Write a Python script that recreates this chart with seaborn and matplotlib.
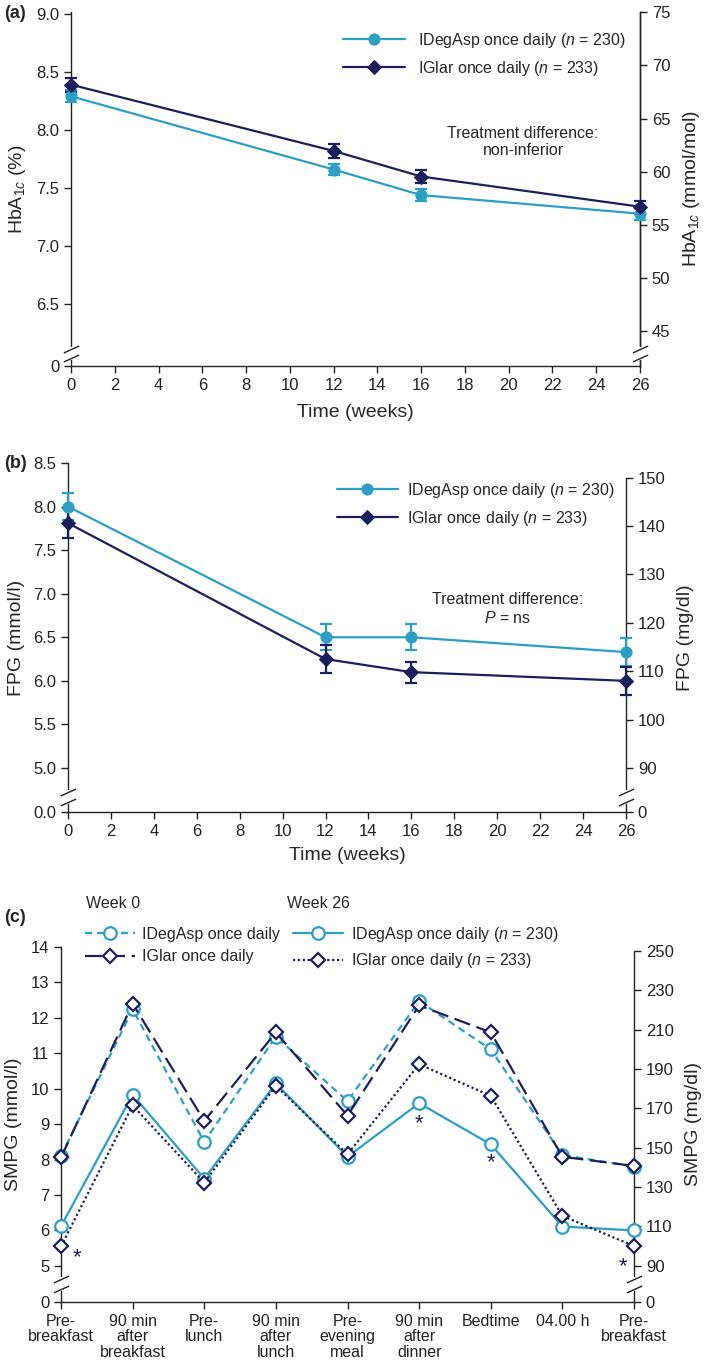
import numpy as np
import pandas as pd
import matplotlib
matplotlib.use("Agg")
import matplotlib.pyplot as plt
import seaborn as sns

# ---- data ----
weeks = [0, 12, 16, 26]

# (a) HbA1c, %
hba1c_degasp = [8.29, 7.66, 7.44, 7.28]
hba1c_glar = [8.39, 7.82, 7.60, 7.34]
hba1c_se_degasp = [0.05, 0.05, 0.05, 0.05]
hba1c_se_glar = [0.06, 0.06, 0.06, 0.05]

# (b) FPG, mmol/l
fpg_degasp = [8.00, 6.50, 6.50, 6.33]
fpg_glar = [7.81, 6.25, 6.10, 6.00]
fpg_se_degasp = [0.15, 0.15, 0.15, 0.16]
fpg_se_glar = [0.17, 0.16, 0.12, 0.16]

# (c) 9-point SMPG profile, mmol/l
timepoints = ["Pre-\nbreakfast", "90 min\nafter\nbreakfast", "Pre-\nlunch",
              "90 min\nafter\nlunch", "Pre-\nevening\nmeal", "90 min\nafter\ndinner",
              "Bedtime", "04.00 h", "Pre-\nbreakfast"]
smpg_degasp_w0 = [8.10, 12.24, 8.50, 11.47, 9.65, 12.47, 11.11, 8.13, 7.80]
smpg_glar_w0 = [8.06, 12.40, 9.09, 11.59, 9.24, 12.35, 11.59, 8.08, 7.82]
smpg_degasp_w26 = [6.12, 9.83, 7.46, 10.15, 8.08, 9.59, 8.43, 6.11, 6.00]
smpg_glar_w26 = [5.55, 9.53, 7.35, 10.08, 8.15, 10.69, 9.80, 6.41, 5.56]
signif_idx = [0, 5, 6, 8]          # time points marked with *
signif_y = [5.22, 9.00, 7.92, 4.98]

LIGHT = "#2b9fc4"
NAVY = "#1d1f5c"
AXC = "#222222"

sns.set_theme(style="ticks")
plt.rcParams["font.family"] = ["Liberation Sans", "DejaVu Sans"]
plt.rcParams["mathtext.fontset"] = "custom"
plt.rcParams["mathtext.rm"] = "Liberation Sans"
plt.rcParams["mathtext.it"] = "Liberation Sans:italic"
plt.rcParams["axes.edgecolor"] = AXC
plt.rcParams["axes.linewidth"] = 1.0
plt.rcParams["xtick.color"] = AXC
plt.rcParams["ytick.color"] = AXC
plt.rcParams["xtick.major.size"] = 5
plt.rcParams["ytick.major.size"] = 5
plt.rcParams["xtick.labelsize"] = 12
plt.rcParams["ytick.labelsize"] = 12
plt.rcParams["axes.labelsize"] = 14

W, H = 709, 1368
fig = plt.figure(figsize=(W / 100, H / 100), dpi=100)


def px_axes(left, top, right, bottom):
    return fig.add_axes([left / W, 1 - bottom / H, (right - left) / W, (bottom - top) / H])


def axis_break(ax, yval, xs=(0, 1)):
    # small "//" marks across the vertical spines
    trans = ax.get_yaxis_transform()
    span = ax.get_ylim()[1] - ax.get_ylim()[0]
    for x in xs:
        ax.plot([x, x], [yval - 0.013 * span, yval + 0.013 * span],
                transform=trans, color="white", lw=3, clip_on=False, zorder=5)
        for dy in (-0.013 * span, 0.013 * span):
            ax.plot([x], [yval + dy], transform=trans, marker=[(-1, -0.45), (1, 0.45)],
                    markersize=11, mew=1.0, color=AXC, ls="none", clip_on=False, zorder=6)


def make_twin(ax):
    ax2 = ax.twinx()
    for s in ("top", "left", "bottom"):
        ax2.spines[s].set_visible(False)
    ax2.tick_params(direction="out", width=1.0)
    ax.set_zorder(ax2.get_zorder() + 1)
    ax.patch.set_visible(False)
    return ax2


def unclip(ax):
    for art in list(ax.lines) + list(ax.collections):
        art.set_clip_on(False)


# ---------- (a) HbA1c ----------
ax = px_axes(71, 12, 640, 366)
df_a = pd.DataFrame({"week": weeks * 2,
                     "val": hba1c_degasp + hba1c_glar,
                     "arm": ["IDegAsp"] * 4 + ["IGlar"] * 4})
for arm, col, mk, ms, lab, se in [
        ("IDegAsp", LIGHT, "o", 8, "IDegAsp once daily ($n$ = 230)", hba1c_se_degasp),
        ("IGlar", NAVY, "D", 7, "IGlar once daily ($n$ = 233)", hba1c_se_glar)]:
    sub = df_a[df_a.arm == arm]
    sns.lineplot(data=sub, x="week", y="val", ax=ax, color=col, marker=mk, markersize=ms,
                 markeredgecolor=col, lw=1.6, label=lab, zorder=4)
    ax.errorbar(sub["week"], sub["val"], yerr=se, fmt="none", ecolor=col, elinewidth=1.6,
                capsize=4.5, capthick=1.6, zorder=3)
unclip(ax)
ylo_a, yhi_a = 5.97, 9.015
ax.set_xlim(0, 26)
ax.set_ylim(ylo_a, yhi_a)
ax.set_xticks(range(0, 27, 2))
ax.set_yticks([ylo_a, 6.5, 7.0, 7.5, 8.0, 8.5, 9.0])
ax.set_yticklabels(["0", "6.5", "7.0", "7.5", "8.0", "8.5", "9.0"])
ax.set_xlabel("Time (weeks)", labelpad=8)
ax.set_ylabel("HbA$_{1c}$ (%)", labelpad=6)
sns.despine(ax=ax, top=True, right=False)
ax.tick_params(direction="out", width=1.0)
ax.legend(loc="upper left", bbox_to_anchor=(343 / W, 1 - 31 / H), bbox_transform=fig.transFigure,
          frameon=False, fontsize=11.5, handlelength=3.9, handletextpad=0.8, borderpad=0,
          borderaxespad=0, labelspacing=0.55)
ax2 = make_twin(ax)
to_mmol = lambda v: 10.929 * (v - 2.15)
ax2.set_ylim(to_mmol(ylo_a), to_mmol(yhi_a))
ax2.set_yticks([45, 50, 55, 60, 65, 70, 75])
ax2.set_ylabel("HbA$_{1c}$ (mmol/mol)", labelpad=8)
fig.text(523 / W, 1 - 142 / H, "Treatment difference:\nnon-inferior", ha="center", va="center",
         fontsize=11.5)
fig.text(4 / W, 1 - 14 / H, "(a)", fontweight="bold", fontsize=13, va="center")
axis_break(ax, 6.08)

# ---------- (b) FPG ----------
ax = px_axes(68, 463, 626, 812)
df_b = pd.DataFrame({"week": weeks * 2,
                     "val": fpg_degasp + fpg_glar,
                     "arm": ["IDegAsp"] * 4 + ["IGlar"] * 4})
for arm, col, mk, ms, lab, se in [
        ("IDegAsp", LIGHT, "o", 8, "IDegAsp once daily ($n$ = 230)", fpg_se_degasp),
        ("IGlar", NAVY, "D", 7, "IGlar once daily ($n$ = 233)", fpg_se_glar)]:
    sub = df_b[df_b.arm == arm]
    sns.lineplot(data=sub, x="week", y="val", ax=ax, color=col, marker=mk, markersize=ms,
                 markeredgecolor=col, lw=1.6, label=lab, zorder=4)
    ax.errorbar(sub["week"], sub["val"], yerr=se, fmt="none", ecolor=col, elinewidth=1.6,
                capsize=4.5, capthick=1.6, zorder=3)
unclip(ax)
ylo_b, yhi_b = 4.495, 8.5
ax.set_xlim(0, 26)
ax.set_ylim(ylo_b, yhi_b)
ax.set_xticks(range(0, 27, 2))
ax.set_yticks([ylo_b, 5.0, 5.5, 6.0, 6.5, 7.0, 7.5, 8.0, 8.5])
ax.set_yticklabels(["0.0", "5.0", "5.5", "6.0", "6.5", "7.0", "7.5", "8.0", "8.5"])
ax.set_xlabel("Time (weeks)", labelpad=6)
ax.set_ylabel("FPG (mmol/l)", labelpad=6)
sns.despine(ax=ax, top=True, right=True)
ax.tick_params(direction="out", width=1.0)
ax.legend(loc="upper left", bbox_to_anchor=(337 / W, 1 - 481 / H), bbox_transform=fig.transFigure,
          frameon=False, fontsize=11.5, handlelength=3.8, handletextpad=0.6, borderpad=0,
          borderaxespad=0, labelspacing=0.55)
ax2 = make_twin(ax)
ax2.set_ylim(ylo_b * 18, yhi_b * 18)
ax2.set_yticks([ylo_b * 18, 90, 100, 110, 120, 130, 140, 150])
ax2.set_yticklabels(["0", "90", "100", "110", "120", "130", "140", "150"])
ax2.spines["right"].set_bounds(ylo_b * 18, 150)
ax2.set_ylabel("FPG (mg/dl)", labelpad=8)
fig.text(508 / W, 1 - 609 / H, "Treatment difference:\n$P$ = ns", ha="center", va="center",
         fontsize=11.5)
fig.text(4 / W, 1 - 463 / H, "(b)", fontweight="bold", fontsize=13, va="center")
axis_break(ax, 4.667)

# ---------- (c) SMPG ----------
ax = px_axes(61, 947, 634, 1302)
pos = np.arange(len(timepoints))
series = [
    (smpg_degasp_w0, LIGHT, "o", 9, (0, (3.2, 2.2)), "IDegAsp once daily"),
    (smpg_glar_w0, NAVY, "D", 7.5, (0, (7.5, 3)), "IGlar once daily"),
    (smpg_degasp_w26, LIGHT, "o", 9, "-", "IDegAsp once daily ($n$ = 230)"),
    (smpg_glar_w26, NAVY, "D", 7.5, (0, (1, 1.2)), "IGlar once daily ($n$ = 233)"),
]
for vals, col, mk, ms, ls, lab in series:
    sns.lineplot(x=pos, y=vals, ax=ax, color=col, marker=mk, markersize=ms, linestyle=ls,
                 markerfacecolor="white", markeredgecolor=col, markeredgewidth=1.6,
                 lw=1.6, label=lab, zorder=4)
unclip(ax)
offsets = {0: 0.22, 8: -0.16}
for i, yv in zip(signif_idx, signif_y):
    ax.text(pos[i] + offsets.get(i, 0), yv, "*", color=NAVY, fontsize=16, ha="center", va="center")
ylo_c, yhi_c = 3.98, 14.0
ax.set_xlim(0, len(timepoints) - 1)
ax.set_ylim(ylo_c, yhi_c)
ax.set_xticks(pos)
ax.set_xticklabels(timepoints, linespacing=1.05, fontsize=11.5)
ax.set_yticks([ylo_c] + list(range(5, 15)))
ax.set_yticklabels(["0"] + [str(v) for v in range(5, 15)])
ax.set_ylabel("SMPG (mmol/l)", labelpad=6)
sns.despine(ax=ax, top=True, right=True)
ax.tick_params(direction="out", width=1.0)
ax.legend(loc="upper left", bbox_to_anchor=(85 / W, 1 - 925 / H), bbox_transform=fig.transFigure,
          ncol=2, frameon=False, fontsize=11.5, handlelength=3.1, handletextpad=0.5,
          borderpad=0, borderaxespad=0, labelspacing=0.45, columnspacing=0.8)
ax2 = make_twin(ax)
ax2.set_ylim(ylo_c * 18, yhi_c * 18)
ax2.set_yticks([ylo_c * 18] + list(range(90, 251, 20)))
ax2.set_yticklabels(["0"] + [str(v) for v in range(90, 251, 20)])
ax2.spines["right"].set_bounds(ylo_c * 18, 250)
ax2.set_ylabel("SMPG (mg/dl)", labelpad=8)
fig.text(86 / W, 1 - 903 / H, "Week 0", fontsize=11.5, va="center")
fig.text(287 / W, 1 - 903 / H, "Week 26", fontsize=11.5, va="center")
fig.text(4 / W, 1 - 917 / H, "(c)", fontweight="bold", fontsize=13, va="center")
axis_break(ax, 4.49)

fig.savefig("out.png", dpi=100)
